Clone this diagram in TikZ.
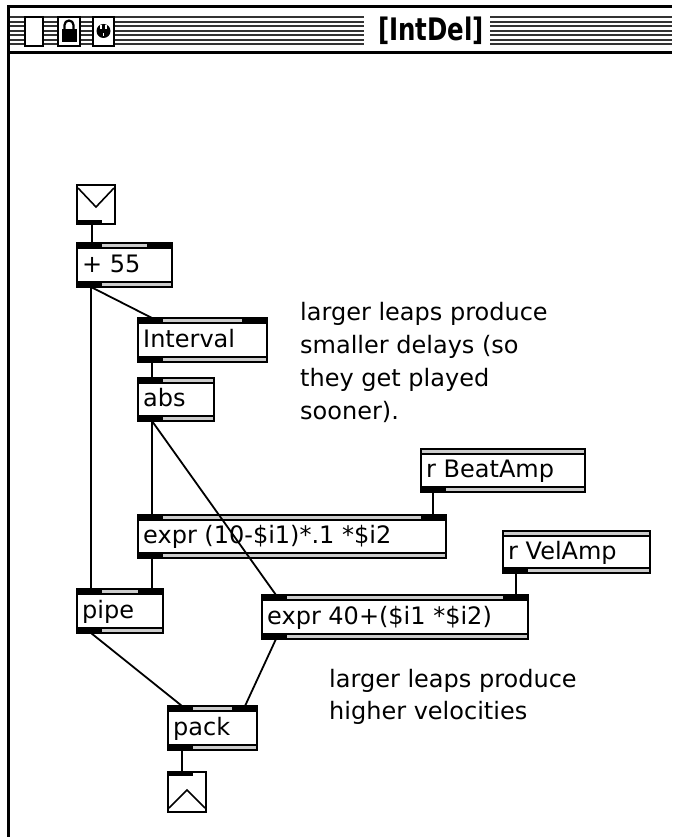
\documentclass[tikz,border=0pt]{standalone}
\usepackage{fontspec}
\setmainfont{DejaVu Sans}
\usetikzlibrary{calc}

\tikzset{
  objbox/.style={rectangle, inner sep=0pt, outer sep=0pt, anchor=north west},
  objtext/.style={anchor=west, inner sep=0pt, xshift=5pt,
    font=\fontsize{24}{28}\selectfont, text height=19pt, text depth=5pt},
  comment/.style={anchor=base west, inner sep=0pt, font=\fontsize{24}{33}\selectfont},
  frameline/.style={draw=black, line width=2.2pt},
  band/.style={fill=black!20},
  patch/.style={draw=black, line width=1.8pt},
  stripe/.style={draw=black!80, line width=2pt},
  chrome/.style={draw=black, line width=2pt, fill=white},
}

% double lines along the top and bottom edge of an object box
\newcommand\objBands[1]{%
  \fill[band] (#1.north west) rectangle ($(#1.north east)+(0,5)$);
  \fill[band] (#1.south west) rectangle ($(#1.south east)+(0,-5)$);
  \draw[line width=1.8pt] ($(#1.north west)+(0,5)$) -- ($(#1.north east)+(0,5)$);
  \draw[line width=1.8pt] ($(#1.south west)+(0,-5)$) -- ($(#1.south east)+(0,-5)$);
}
% inlets and outlet tabs
\newcommand\objInL[1]{\fill ($(#1.north west)+(-1,-1)$) rectangle ($(#1.north west)+(25,6)$);}
\newcommand\objInR[1]{\fill ($(#1.north east)+(-25,-1)$) rectangle ($(#1.north east)+(1,6)$);}
\newcommand\objOut[1]{\fill ($(#1.south west)+(-1,1)$) rectangle ($(#1.south west)+(25,-6)$);}
\newcommand\objFrame[1]{\draw[frameline] (#1.north west) rectangle (#1.south east);}

\begin{document}
\begin{tikzpicture}[x=1pt,y=-1pt]
\useasboundingbox (0,0) rectangle (672,837);
\fill[white] (0,0) rectangle (672,837);

% ---------- window chrome ----------
\draw[line width=3pt] (8.5,837) -- (8.5,6.5) -- (672,6.5);
\draw[line width=2.5pt] (8.5,52.5) -- (672,52.5);
\foreach \k in {0,...,6}{
  \foreach \a/\b in {10/24, 44/57, 81/93, 114/364, 490/672}
    \draw[stripe] (\a,{17.5+4.5*\k}) -- (\b,{17.5+4.5*\k});
}
% close box
\draw[chrome] (25,17) rectangle (43,46);
% lock box
\draw[chrome] (58,17) rectangle (80,46);
\fill (61.5,29) rectangle (76.5,42);
\draw[line width=2.2pt] (64.5,30) -- (64.5,25) arc[start angle=180, end angle=360, radius=4.5] -- (73.5,30);
% plug box
\draw[chrome] (93,17) rectangle (114,46);
\fill (103.5,31) circle[radius=7];
\fill[white] (100,25.5) rectangle (101.6,29.5);
\fill[white] (105.4,25.5) rectangle (107,29.5);
\fill[white] (102.7,33) rectangle (104.3,36);
% title
\node[inner sep=0pt, font=\fontsize{31}{31}\selectfont\bfseries] (title) at (431,31) {\scalebox{0.79}[1]{[IntDel]}};

% ---------- boxes ----------
% number inlet
\node[objbox, minimum width=38pt, minimum height=39pt] (inbox) at (77,185) {};
\objFrame{inbox}
\fill ($(inbox.south west)+(-1,1)$) rectangle ($(inbox.south west)+(25,-4)$);
\draw[line width=1.6pt] ($(inbox.north west)+(1,3)$) -- ($(inbox.north)+(0,22)$) -- ($(inbox.north east)+(-1,3)$);

% + 55
\node[objbox, minimum width=95pt, minimum height=44pt] (plus) at (77,243) {};
\objBands{plus}\objInL{plus}\objInR{plus}\objOut{plus}\objFrame{plus}
\node[objtext] (plusT) at (plus.west) {+ 55};

% Interval
\node[objbox, minimum width=129pt, minimum height=44pt] (intv) at (138,318) {};
\objBands{intv}\objInL{intv}\objInR{intv}\objOut{intv}\objFrame{intv}
\node[objtext] (intvT) at (intv.west) {Interval};

% abs
\node[objbox, minimum width=76pt, minimum height=43pt] (abs) at (138,378) {};
\objBands{abs}\objInL{abs}\objOut{abs}\objFrame{abs}
\node[objtext] (absT) at (abs.west) {abs};

% r BeatAmp
\node[objbox, minimum width=164pt, minimum height=43pt] (beat) at (421,449) {};
\objBands{beat}\objOut{beat}\objFrame{beat}
\node[objtext] (beatT) at (beat.west) {r BeatAmp};

% expr (10-$i1)*.1 *$i2
\node[objbox, minimum width=308pt, minimum height=43pt] (exa) at (138,515) {};
\objBands{exa}\objInL{exa}\objInR{exa}\objOut{exa}\objFrame{exa}
\node[objtext] (exaT) at (exa.west) {expr (10-\$i1)*.1 *\$i2};

% r VelAmp
\node[objbox, minimum width=147pt, minimum height=42pt] (vel) at (503,531) {};
\objBands{vel}\objOut{vel}\objFrame{vel}
\node[objtext] (velT) at (vel.west) {r VelAmp};

% pipe
\node[objbox, minimum width=86pt, minimum height=44pt] (pipe) at (77,589) {};
\objBands{pipe}\objInL{pipe}\objInR{pipe}\objOut{pipe}\objFrame{pipe}
\node[objtext] (pipeT) at (pipe.west) {pipe};

% expr 40+($i1 *$i2)
\node[objbox, minimum width=266pt, minimum height=44pt] (exb) at (262,595) {};
\objBands{exb}\objInL{exb}\objInR{exb}\objOut{exb}\objFrame{exb}
\node[objtext] (exbT) at (exb.west) {expr 40+(\$i1 *\$i2)};

% pack
\node[objbox, minimum width=89pt, minimum height=44pt] (pack) at (168,706) {};
\objBands{pack}\objInL{pack}\objInR{pack}\objOut{pack}\objFrame{pack}
\node[objtext] (packT) at (pack.west) {pack};

% number outlet
\node[objbox, minimum width=38pt, minimum height=40pt] (outbox) at (168,772) {};
\objFrame{outbox}
\fill ($(outbox.north west)+(-1,-1)$) rectangle ($(outbox.north west)+(25,4)$);
\draw[line width=1.6pt] ($(outbox.south west)+(1,-4)$) -- ($(outbox.south)+(0,-22)$) -- ($(outbox.south east)+(-1,-4)$);

% ---------- patch cords ----------
\draw[patch] ($(inbox.south west)+(15,0)$) -- ($(plus.north west)+(15,0)$);
\draw[patch] ($(plus.south west)+(14,0)$) -- ($(intv.north west)+(14,0)$);
\draw[patch] ($(plus.south west)+(14,0)$) -- ($(pipe.north west)+(14,0)$);
\draw[patch] ($(intv.south west)+(14,0)$) -- ($(abs.north west)+(14,0)$);
\draw[patch] ($(abs.south west)+(14,0)$) -- ($(exa.north west)+(14,0)$);
\draw[patch] ($(abs.south west)+(14,0)$) -- ($(exb.north west)+(14,0)$);
\draw[patch] ($(beat.south west)+(12,0)$) -- ($(exa.north east)+(-13,0)$);
\draw[patch] ($(vel.south west)+(13,0)$) -- ($(exb.north east)+(-12,0)$);
\draw[patch] ($(exa.south west)+(14,0)$) -- ($(pipe.north east)+(-11,0)$);
\draw[patch] ($(pipe.south west)+(14,0)$) -- ($(pack.north west)+(14,0)$);
\draw[patch] ($(exb.south west)+(14,0)$) -- ($(pack.north east)+(-12,0)$);
\draw[patch] ($(pack.south west)+(14,0)$) -- ($(outbox.north west)+(14,0)$);

% ---------- comments ----------
\node[comment] (ca1) at (300,320) {larger leaps produce};
\node[comment] (ca2) at (300,353) {smaller delays (so};
\node[comment] (ca3) at (300,386) {they get played};
\node[comment] (ca4) at (300,419) {sooner).};
\node[comment] (cb1) at (329,687) {larger leaps produce};
\node[comment] (cb2) at (329,719) {higher velocities};
\end{tikzpicture}
\end{document}
